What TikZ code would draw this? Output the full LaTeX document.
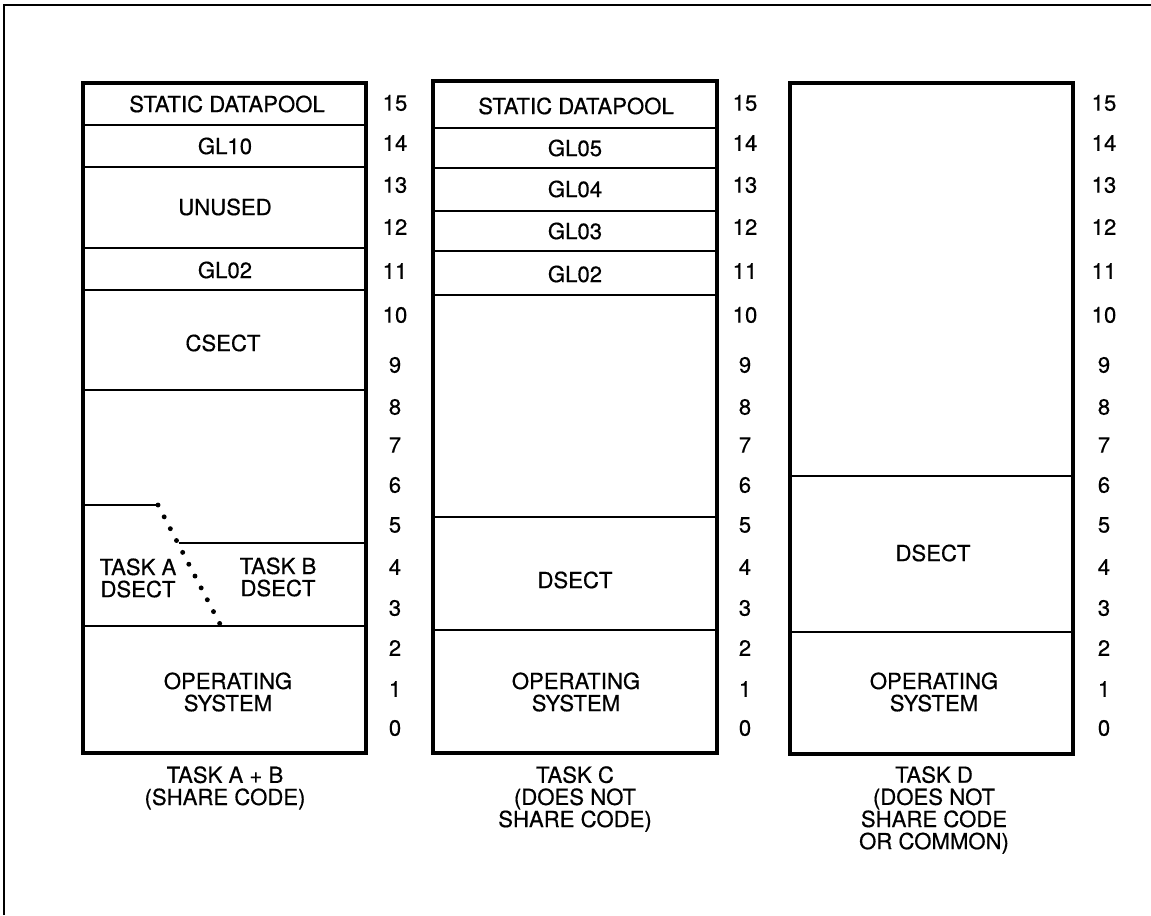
\documentclass[tikz,border=0pt]{standalone}
\usepackage{fontspec}
\setmainfont{TeX Gyre Heros}
\newfontfamily\scanfont{TeX Gyre Heros}[FakeBold=0.5]
\begin{document}
\begin{tikzpicture}[x=0.02cm,y=-0.02cm,
  lbl/.style={font=\scanfont\fontsize{12.6}{12.6}\selectfont, align=center, inner sep=0pt},
  num/.style={font=\scanfont\fontsize{12.6}{12.6}\selectfont, inner sep=0pt},
  colbox/.style={line width=2.3pt},
  divider/.style={line width=1.1pt},
  frameline/.style={line width=1.1pt},
  dotline/.style={line width=2.8pt, line cap=round, dash pattern=on 0pt off 7.6pt}]
\useasboundingbox (0,0) rectangle (1151,915);
% outer frame (cut off at right and bottom)
\draw[frameline] (4,915) -- (4,5) -- (1151,5);

% ---------- Column 1 : TASK A + B ----------
\coordinate (c1tl) at (83,83);
\coordinate (c1br) at (366,753);
\foreach \yy in {125,167,248,290,390,626}
  \draw[divider] (83,\yy) -- (366,\yy);
\coordinate (aL) at (83,505);
\coordinate (aR) at (158,505);
\coordinate (bL) at (179,543);
\coordinate (bR) at (366,543);
\coordinate (dEnd) at (221,626);
\draw[divider] (aL) -- (aR);
\draw[divider] (bL) -- (bR);
\draw[dotline] (aR) -- (dEnd);
\draw[colbox] (c1tl) rectangle (c1br);
\node[lbl] (a1) at (227,104) {STATIC DATAPOOL};
\node[lbl] (a2) at (225,146) {GL10};
\node[lbl] (a3) at (225,207) {UNUSED};
\node[lbl] (a4) at (225,270) {GL02};
\node[lbl] (a5) at (223,343) {CSECT};
\node[lbl] (a6) at (138,578) {TASK A\\DSECT};
\node[lbl] (a7) at (278,577) {TASK B\\DSECT};
\node[lbl] (a8) at (228,692) {OPERATING\\SYSTEM};
\node[lbl] (a9) at (225,788) {TASK A + B\\(SHARE CODE)};

% ---------- Column 2 : TASK C ----------
\coordinate (c2tl) at (433,81);
\coordinate (c2br) at (717,753);
\foreach \yy in {128,168,211,251,295,517,630}
  \draw[divider] (433,\yy) -- (717,\yy);
\draw[colbox] (c2tl) rectangle (c2br);
\node[lbl] (b1) at (576,106) {STATIC DATAPOOL};
\node[lbl] (b2) at (575,148) {GL05};
\node[lbl] (b3) at (575,189) {GL04};
\node[lbl] (b4) at (575,231) {GL03};
\node[lbl] (b5) at (575,274) {GL02};
\node[lbl] (b6) at (575,580) {DSECT};
\node[lbl] (b7) at (576,692) {OPERATING\\SYSTEM};
\node[lbl] (b8) at (575,799) {TASK C\\(DOES NOT\\SHARE CODE)};

% ---------- Column 3 : TASK D ----------
\coordinate (c3tl) at (790,83);
\coordinate (c3br) at (1073,754);
\foreach \yy in {476,632}
  \draw[divider] (790,\yy) -- (1073,\yy);
\draw[colbox] (c3tl) rectangle (c3br);
\node[lbl] (d1) at (933,553) {DSECT};
\node[lbl] (d2) at (934,692) {OPERATING\\SYSTEM};
\node[lbl] (d3) at (934,810) {TASK D\\(DOES NOT\\SHARE CODE\\OR COMMON)};

% ---------- address numbers ----------
\foreach \n/\yy in {15/103,14/143,13/185,12/227,11/271,10/315,9/365,8/407,7/445,6/485,5/525,4/567,3/608,2/648,1/689,0/728}{
  \node[num] (na\n) at (395,\yy) {\n};
  \node[num] (nb\n) at (745,\yy) {\n};
  \node[num] (nc\n) at (1104,\yy) {\n};
}
\end{tikzpicture}
\end{document}
